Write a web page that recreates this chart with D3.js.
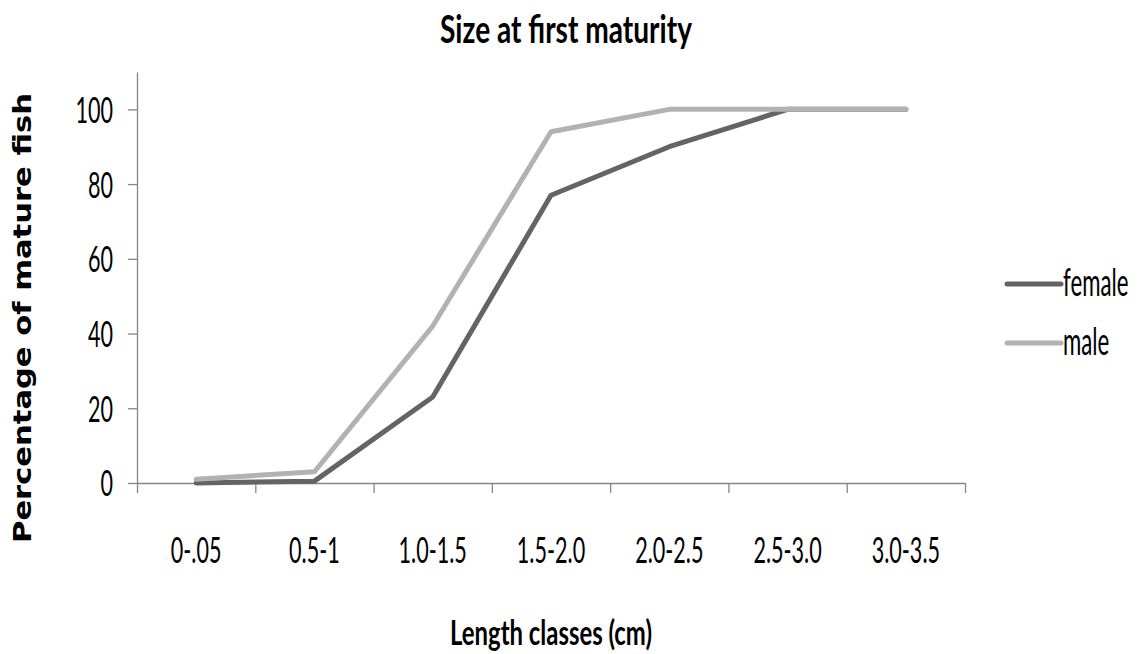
<!DOCTYPE html>
<html>
<head>
<meta charset="utf-8">
<script src="https://cdn.jsdelivr.net/npm/d3@7"></script>
<style>
  body { margin: 0; background: #fff; }
  svg { display: block; }
  .axis path, .axis line { stroke: #868686; stroke-width: 1.3; }
  .axis text { font-family: Lato, "Open Sans", sans-serif; fill: #000; }
</style>
</head>
<body>
<div id="chart"></div>
<script>
// Data
const categories = ["0-.05", "0.5-1", "1.0-1.5", "1.5-2.0", "2.0-2.5", "2.5-3.0", "3.0-3.5"];
const femaleValues = [0, 0.5, 23, 77, 90, 100, 100];
const maleValues   = [1, 3, 42, 94, 100, 100, 100];
const yTicks = [0, 20, 40, 60, 80, 100];
const seriesNames = ["female", "male"];
const seriesColors = ["#646464", "#b2b2b2"];

const W = 1141, H = 654;
const plot = { left: 137, right: 965, top: 72, bottom: 483 };

const svg = d3.select("#chart").append("svg")
  .attr("width", W)
  .attr("height", H);

// squeeze text horizontally (the original is a narrow, stretched Calibri)
function squeeze(sel, k) {
  sel.each(function () {
    const w = this.getComputedTextLength();
    d3.select(this).attr("textLength", w * k).attr("lengthAdjust", "spacingAndGlyphs");
  });
}

// scales
const x = d3.scaleBand()
  .domain(categories)
  .range([plot.left, plot.right]);

const xEdges = d3.scaleLinear()
  .domain([0, categories.length])
  .range([plot.left, plot.right]);

const y = d3.scaleLinear()
  .domain([0, 110])
  .range([plot.bottom, plot.top]);

// y axis
const yAxisG = svg.append("g")
  .attr("class", "axis")
  .attr("transform", `translate(${plot.left},0)`)
  .call(d3.axisLeft(y).tickValues(yTicks).tickSize(9).tickSizeOuter(0).tickPadding(15));
yAxisG.selectAll("text")
  .style("font-size", "36px")
  .attr("dy", "0.36em")
  .call(squeeze, 0.6);

// x axis: tick marks between categories, labels at centres
svg.append("g")
  .attr("class", "axis")
  .attr("transform", `translate(0,${plot.bottom})`)
  .call(d3.axisBottom(xEdges).tickValues(d3.range(categories.length + 1)).tickSize(10).tickSizeOuter(0).tickFormat(""));

const xAxisG = svg.append("g")
  .attr("class", "axis")
  .attr("transform", `translate(0,${plot.bottom})`)
  .call(d3.axisBottom(x).tickSize(0).tickPadding(0));
xAxisG.select(".domain").remove();
xAxisG.selectAll("text")
  .style("font-size", "36px")
  .attr("y", 80)
  .attr("dy", 0)
  .call(squeeze, 0.6);

// lines
const series = [
  { name: seriesNames[0], values: femaleValues, color: seriesColors[0] },
  { name: seriesNames[1], values: maleValues, color: seriesColors[1] }
];

const line = d3.line()
  .x((d, i) => x(categories[i]) + x.bandwidth() / 2)
  .y(d => y(d));

svg.selectAll(".series")
  .data(series)
  .enter()
  .append("path")
  .attr("class", "series")
  .attr("fill", "none")
  .attr("stroke", d => d.color)
  .attr("stroke-width", 5)
  .attr("stroke-linejoin", "round")
  .attr("stroke-linecap", "round")
  .attr("d", d => line(d.values));

// title
svg.append("text")
  .attr("x", 566)
  .attr("y", 43)
  .attr("text-anchor", "middle")
  .style("font-family", "Lato, sans-serif")
  .style("font-weight", "bold")
  .style("font-size", "39px")
  .attr("textLength", 252)
  .attr("lengthAdjust", "spacingAndGlyphs")
  .text("Size at first maturity");

// x axis title
svg.append("text")
  .attr("x", 551)
  .attr("y", 645)
  .attr("text-anchor", "middle")
  .style("font-family", "Lato, sans-serif")
  .style("font-weight", "bold")
  .style("font-size", "35px")
  .attr("textLength", 202)
  .attr("lengthAdjust", "spacingAndGlyphs")
  .text("Length classes (cm)");

// y axis title
svg.append("text")
  .attr("transform", "translate(31,318) rotate(-90)")
  .attr("text-anchor", "middle")
  .style("font-family", "'DejaVu Sans', sans-serif")
  .style("font-weight", "bold")
  .style("font-size", "24px")
  .attr("textLength", 450)
  .attr("lengthAdjust", "spacingAndGlyphs")
  .text("Percentage of mature fish");

// legend
const legend = svg.append("g")
  .attr("transform", "translate(1007,284)");

const items = legend.selectAll(".legend-item")
  .data(series)
  .enter()
  .append("g")
  .attr("class", "legend-item")
  .attr("transform", (d, i) => `translate(0,${i * 59})`);

items.append("line")
  .attr("x1", 0)
  .attr("x2", 54)
  .attr("stroke", d => d.color)
  .attr("stroke-width", 5)
  .attr("stroke-linecap", "round");

// scaled with a transform so the box stays narrow too
items.append("text")
  .attr("transform", "translate(56,12) scale(0.57,1)")
  .style("font-family", "Lato, sans-serif")
  .style("font-size", "39px")
  .text(d => d.name);
</script>
</body>
</html>
